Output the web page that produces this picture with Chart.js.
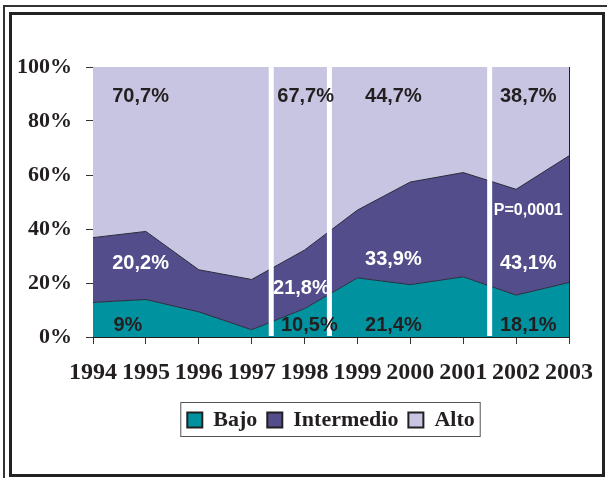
<!DOCTYPE html>
<html>
<head>
<meta charset="utf-8">
<script src="https://cdn.jsdelivr.net/npm/chart.js@4/dist/chart.umd.min.js"></script>
<style>
    html, body { margin: 0; padding: 0; background: #fff; }
    body { width: 607px; height: 478px; position: relative; overflow: hidden; }
    #outer { position: absolute; left: 3px; top: 5px; width: 700px; height: 600px;
             border-top: 2px solid #333; border-left: 2px solid #333; }
    #inner { position: absolute; left: 9px; top: 12px; width: 596px; height: 465px;
             box-sizing: border-box; border: 3px solid #222; }
    #myChart { position: absolute; left: 0; top: 0; }
</style>
</head>
<body>
<div id="outer"></div>
<div id="inner"></div>
<canvas id="myChart" width="607" height="478"></canvas>
<script>
const years = [1994, 1995, 1996, 1997, 1998, 1999, 2000, 2001, 2002, 2003];
const bajo = [12.8, 13.9, 9.3, 2.7, 10.5, 21.9, 19.4, 22.3, 15.5, 20.2];
const intermedio = [24.0, 25.2, 15.6, 18.6, 21.7, 25.1, 38.0, 38.6, 39.2, 46.9];
const alto = [63.2, 60.9, 75.1, 78.7, 67.8, 53.0, 42.6, 39.1, 45.3, 32.9];
const seriesNames = ['Bajo', 'Intermedio', 'Alto'];
const seriesColors = ['#00929f', '#534e8b', '#c8c5e2'];
const yTicks = [0, 20, 40, 60, 80, 100];

// period breaks (white lines) and the text notes, in chart units
const breaks = [1997.37, 1998.47, 2001.5];
const notes = [
    { text: '70,7%', x: 1994.9, y: 89, color: '#231f20' },
    { text: '67,7%', x: 1998.02, y: 89, color: '#231f20' },
    { text: '44,7%', x: 1999.68, y: 89, color: '#231f20' },
    { text: '38,7%', x: 2002.23, y: 89, color: '#231f20' },
    { text: '20,2%', x: 1994.9, y: 27.4, color: '#fff' },
    { text: '21,8%', x: 1997.94, y: 18, color: '#fff' },
    { text: '33,9%', x: 1999.68, y: 28.8, color: '#fff' },
    { text: '43,1%', x: 2002.23, y: 27.4, color: '#fff' },
    { text: 'P=0,0001', x: 2002.23, y: 46.7, color: '#fff', small: true },
    { text: '9%', x: 1994.66, y: 4.3, color: '#231f20' },
    { text: '10,5%', x: 1998.09, y: 4.3, color: '#231f20' },
    { text: '21,4%', x: 1999.68, y: 4.3, color: '#231f20' },
    { text: '18,1%', x: 2002.23, y: 4.3, color: '#231f20' }
];

const serif = '"Liberation Serif", "Times New Roman", serif';
const sans = '"Liberation Sans", Arial, sans-serif';

const extras = {
    id: 'extras',
    afterDatasetsDraw(chart) {
        const { ctx, chartArea, scales } = chart;
        ctx.save();
        ctx.strokeStyle = '#fff';
        ctx.lineWidth = 5;
        breaks.forEach(b => {
            const x = scales.x.getPixelForValue(b);
            ctx.beginPath();
            ctx.moveTo(x, chartArea.top);
            ctx.lineTo(x, chartArea.bottom - 1);
            ctx.stroke();
        });
        ctx.textAlign = 'center';
        ctx.textBaseline = 'middle';
        notes.forEach(n => {
            ctx.font = 'bold ' + (n.small ? 16 : 20) + 'px ' + sans;
            ctx.fillStyle = n.color;
            ctx.fillText(n.text, scales.x.getPixelForValue(n.x), scales.y.getPixelForValue(n.y));
        });
        ctx.restore();
    },
    afterDraw(chart) {
        const boxes = chart.legend.legendHitBoxes;
        if (!boxes || !boxes.length) return;
        const first = boxes[0];
        const last = boxes[boxes.length - 1];
        const ctx = chart.ctx;
        ctx.save();
        ctx.strokeStyle = '#555';
        ctx.lineWidth = 1;
        const cy = first.top + first.height / 2;
        ctx.strokeRect(first.left - 6.5, Math.round(cy) - 17.5, last.left + last.width - first.left + 12, 34);
        ctx.restore();
    }
};

const mkSet = (i, values, fill) => ({
    label: seriesNames[i],
    data: values,
    backgroundColor: seriesColors[i],
    borderColor: i === 2 ? 'rgba(0,0,0,0)' : '#2a2a3a',
    borderWidth: i === 2 ? 0 : 1,
    fill: fill,
    pointRadius: 0,
    tension: 0
});

new Chart(document.getElementById('myChart'), {
    type: 'line',
    data: {
        labels: years,
        datasets: [
            mkSet(0, bajo, 'origin'),
            mkSet(1, intermedio, '-1'),
            mkSet(2, alto, '-1')
        ]
    },
    options: {
        responsive: false,
        devicePixelRatio: 1,
        animation: false,
        layout: { padding: { left: 10, right: 34, top: 67, bottom: 37 } },
        plugins: {
            tooltip: { enabled: false },
            legend: {
                position: 'bottom',
                fullSize: false,
                labels: {
                    color: '#231f20',
                    font: { family: serif, size: 22, weight: 'bold' },
                    boxWidth: 15,
                    boxHeight: 15,
                    padding: 10,
                    generateLabels(chart) {
                        return chart.data.datasets.map((ds, i) => ({
                            text: ds.label,
                            fillStyle: ds.backgroundColor,
                            strokeStyle: '#231f20',
                            lineWidth: 2,
                            fontColor: '#231f20',
                            datasetIndex: i
                        }));
                    }
                }
            }
        },
        scales: {
            x: {
                type: 'linear',
                min: 1994,
                max: 2003,
                afterFit(scale) { scale.height = 62; },
                afterBuildTicks(scale) { scale.ticks = years.map(v => ({ value: v })); },
                ticks: {
                    color: '#231f20',
                    font: { family: serif, size: 24, weight: 'bold' },
                    padding: 14,
                    maxRotation: 0,
                    autoSkip: false,
                    callback: v => String(v)
                },
                grid: { drawOnChartArea: false, color: '#333', tickLength: 7 },
                border: { color: '#231f20', width: 1 }
            },
            y: {
                stacked: true,
                min: 0,
                max: 100,
                afterFit(scale) { scale.width = 83; },
                afterBuildTicks(scale) { scale.ticks = yTicks.map(v => ({ value: v })); },
                ticks: {
                    color: '#231f20',
                    font: { family: serif, size: 22, weight: 'bold' },
                    padding: 14,
                    callback: v => v + '%'
                },
                grid: { drawOnChartArea: false, color: '#333', tickLength: 7 },
                border: { color: '#231f20', width: 1 }
            },
            y2: {
                position: 'right',
                min: 0,
                max: 100,
                afterFit(scale) { scale.width = 0; },
                ticks: { display: false },
                grid: { display: false },
                border: { display: true, color: '#231f20', width: 1 }
            }
        }
    },
    plugins: [extras]
});
</script>
</body>
</html>
